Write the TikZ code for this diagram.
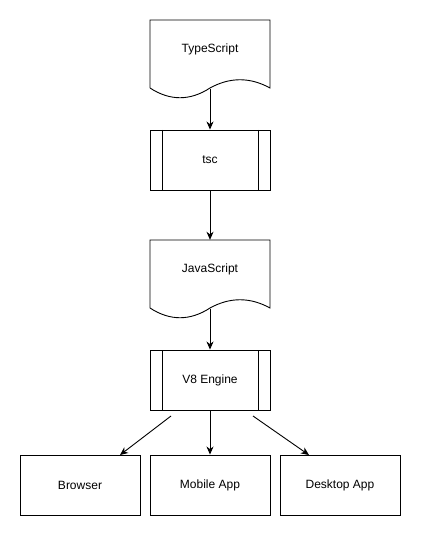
\documentclass[tikz,border=0pt]{standalone}
\usepackage{fontspec}
\setmainfont{Liberation Sans}
\usetikzlibrary{arrows.meta}
\begin{document}
\begin{tikzpicture}[x=1pt,y=-1pt,
  every node/.style={font=\fontsize{12}{14}\selectfont},
  box/.style={draw, line width=0.9pt, minimum width=120pt, minimum height=60pt, inner sep=0pt},
  proc/.style={box, path picture={
     \draw[line width=0.9pt] ([xshift=12pt]path picture bounding box.north west) -- ([xshift=12pt]path picture bounding box.south west);
     \draw[line width=0.9pt] ([xshift=-12pt]path picture bounding box.north east) -- ([xshift=-12pt]path picture bounding box.south east);}},
  docarea/.style={minimum width=120pt, minimum height=80pt, inner sep=0pt},
  docline/.style={line width=0.9pt, line join=miter},
  arr/.style={line width=0.9pt, -{Stealth[length=8pt,width=7pt,inset=2.5pt]}}
]
\useasboundingbox (0,0) rectangle (421,537);

% TypeScript document
\node[docarea] (ts) at (210,60) {};
\draw[docline] (150,88) -- (150,20) -- (270,20) -- (270,88)
   .. controls (250,77) and (230,77) .. (210,88)
   .. controls (190,101) and (170,101) .. (150,88);
\node at (210,49) (tslabel) {TypeScript};
\coordinate (tsb) at (210,89);

% tsc
\node[proc] (tsc) at (210,160) {tsc};

% JavaScript document
\node[docarea] (js) at (210,280) {};
\draw[docline] (150,308) -- (150,240) -- (270,240) -- (270,308)
   .. controls (250,297) and (230,297) .. (210,308)
   .. controls (190,321) and (170,321) .. (150,308);
\node at (210,269) (jslabel) {JavaScript};
\coordinate (jsb) at (210,309);

% V8
\node[proc] (v8) at (210,380) {V8 Engine};

% bottom
\node[box] (browser) at (80,485) {Browser};
\node[box] (mobile) at (210,485) {Mobile App};
\node[box] (desktop) at (340,485) {Desktop App};

\coordinate (v8l) at (171,416);
\coordinate (v8r) at (253,416);
\coordinate (bt) at (120,455);
\coordinate (dt) at (309,455);

\draw[arr] (tsb) -- (tsc.north);
\draw[arr] (tsc.south) -- (js.north);
\draw[arr] (jsb) -- (v8.north);
\draw[arr] (v8l) -- (bt);
\draw[arr] (v8.south) -- (mobile.north);
\draw[arr] (v8r) -- (dt);
\end{tikzpicture}
\end{document}
